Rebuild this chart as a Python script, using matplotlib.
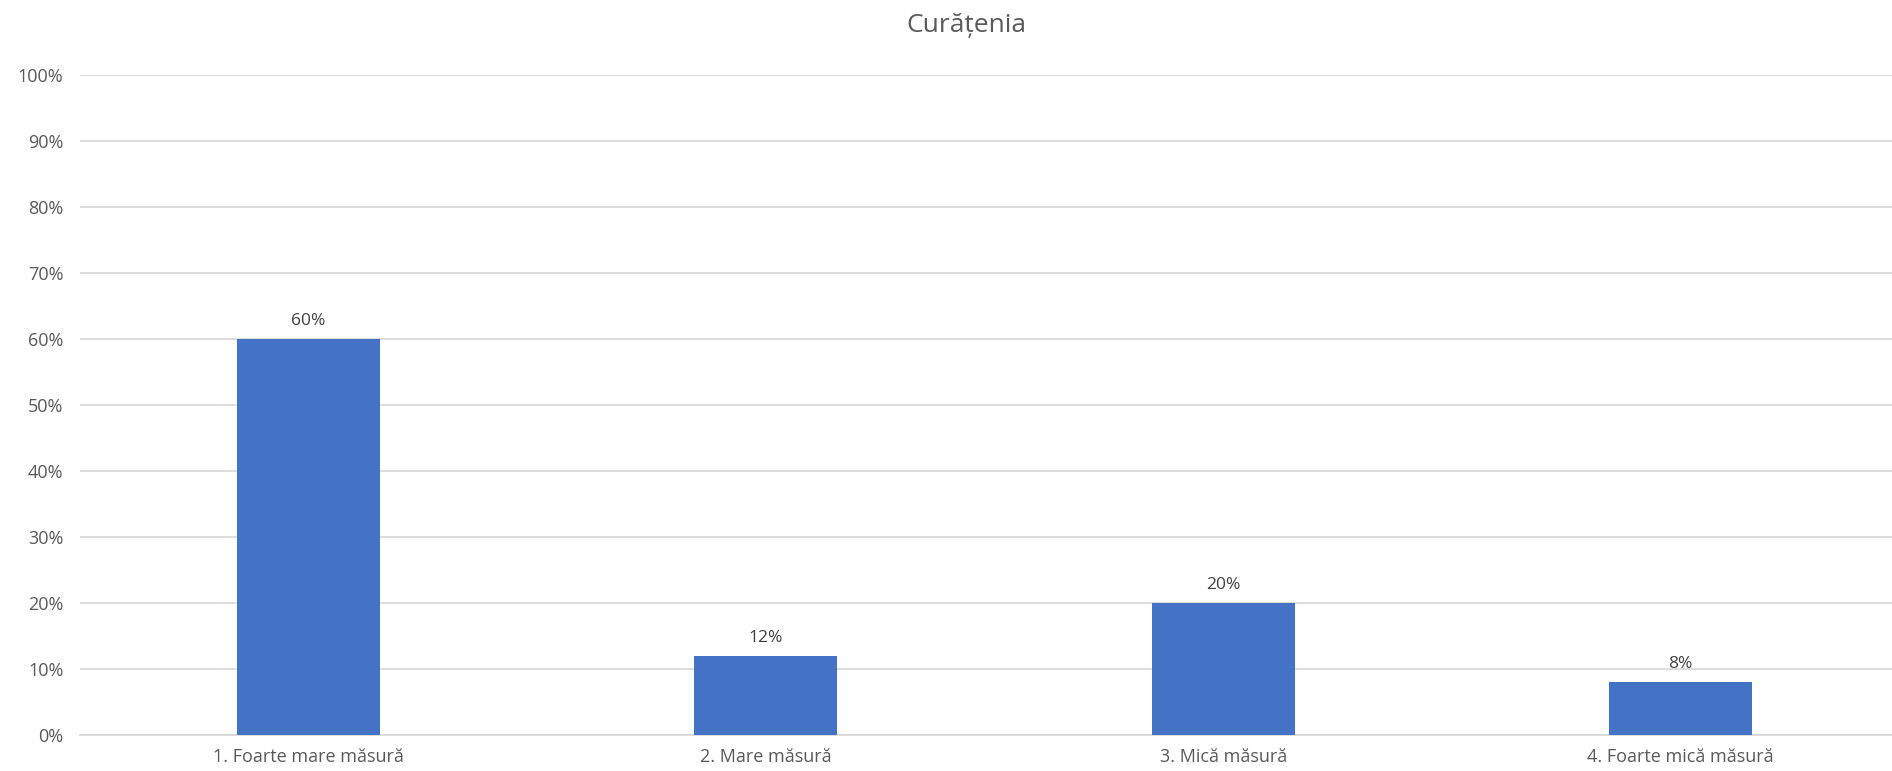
import matplotlib
matplotlib.use("Agg")
import matplotlib.pyplot as plt
from matplotlib.ticker import PercentFormatter, MultipleLocator

categories = ["1. Foarte mare măsură", "2. Mare măsură", "3. Mică măsură", "4. Foarte mică măsură"]
values = [60, 12, 20, 8]
title = "Curățenia"

plt.rcParams['font.family'] = ['Open Sans', 'DejaVu Sans']
W, H = 1892, 771
fig = plt.figure(figsize=(W/100, H/100), dpi=100)
left, right, top, bottom = 80, 1909, 75, 735
ax = fig.add_axes([left/W, 1 - bottom/H, (right-left)/W, (bottom-top)/H])

txt = "#595959"
bars = ax.bar(range(len(categories)), values, width=0.313, color="#4472C4", zorder=3)
for b, v in zip(bars, values):
    ax.annotate(f"{v}%", (b.get_x()+b.get_width()/2, v), xytext=(0, 7), textcoords="offset points",
                ha="center", va="bottom", fontsize=12.5, color="#404040")

ax.set_xlim(-0.5, len(categories)-0.5)
ax.set_ylim(0, 100)
ax.yaxis.set_major_locator(MultipleLocator(10))
ax.yaxis.set_major_formatter(PercentFormatter(decimals=0))
ax.set_xticks(range(len(categories)))
ax.set_xticklabels(categories)
ax.grid(axis="y", color="#D9D9D9", linewidth=1.3, zorder=0)
for s in ["top", "right", "left"]:
    ax.spines[s].set_visible(False)
ax.spines["bottom"].set_color("#D9D9D9")
ax.spines["bottom"].set_linewidth(1.3)
ax.tick_params(axis="both", length=0, labelsize=13, labelcolor=txt)
ax.tick_params(axis="y", pad=12)
ax.tick_params(axis="x", pad=9)
fig.text(966/W, 1 - 26/H, title, ha="center", va="center", fontsize=19, color=txt)
fig.savefig("out.png", dpi=100)
